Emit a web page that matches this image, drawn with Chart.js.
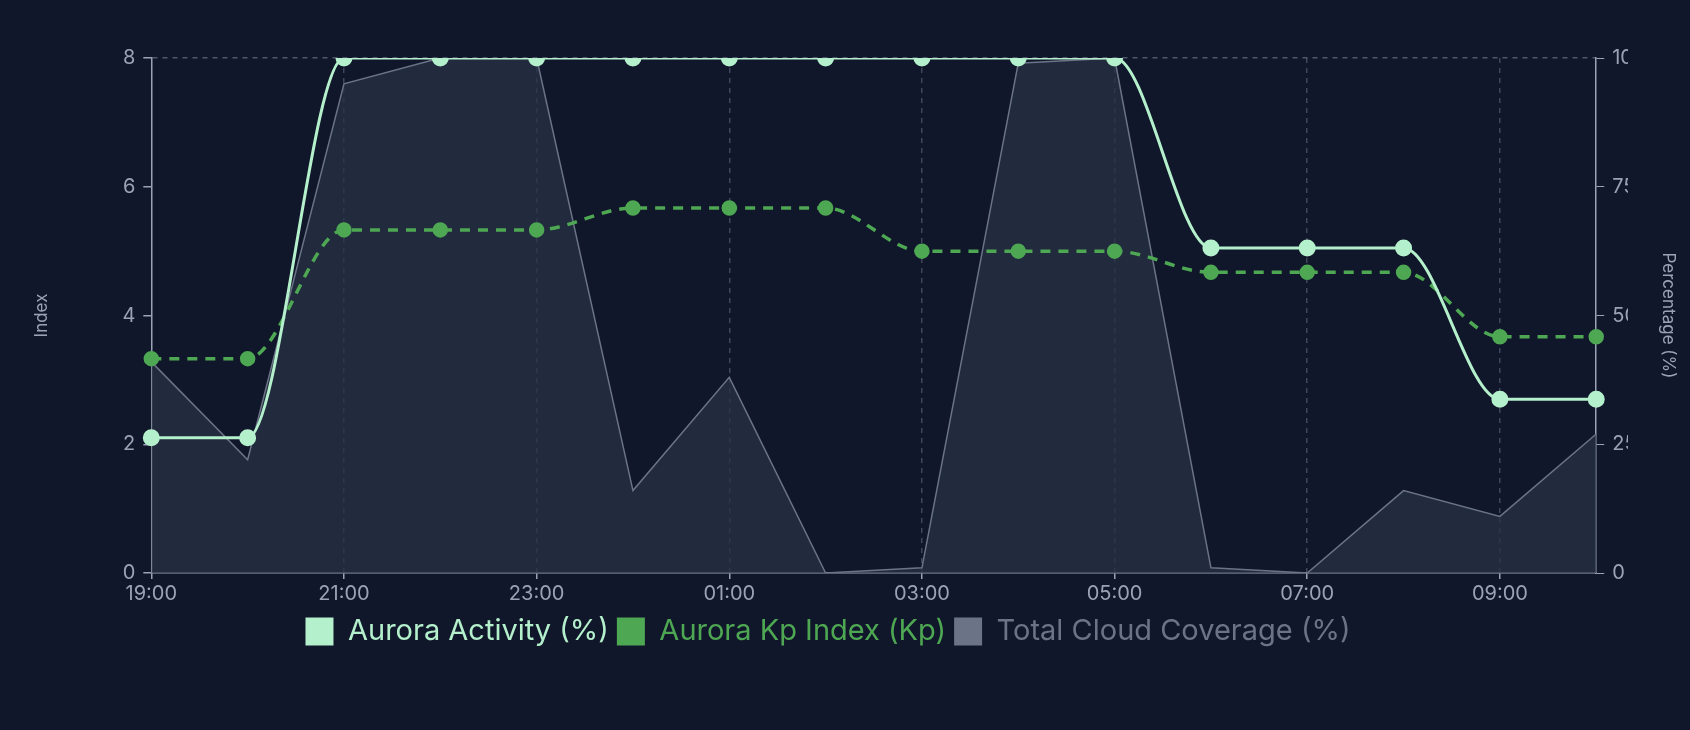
<!DOCTYPE html>
<html><head><meta charset="utf-8">
<script src="https://cdn.jsdelivr.net/npm/chart.js@4/dist/chart.umd.min.js"></script>
<style>html,body{margin:0;background:#10172a;}#w{width:1690px;height:730px;}</style>
</head><body><div id="w"><canvas id="c"></canvas></div>
<script>
const labels=["19:00","20:00","21:00","22:00","23:00","00:00","01:00","02:00","03:00","04:00","05:00","06:00","07:00","08:00","09:00","10:00"];
const auroraActivity=[2.1,2.1,8,8,8,8,8,8,8,8,8,5.05,5.05,5.05,2.7,2.7];
const kpIndex=[3.33,3.33,5.33,5.33,5.33,5.67,5.67,5.67,5.0,5.0,5.0,4.67,4.67,4.67,3.67,3.67];
const cloudCoverage=[41,22,95,100,100,16,38,0,1,99,100,1,0,16,11,27];
const tickC='#9aa3b5', font="'Inter','Noto Sans',sans-serif";
const gapPlugin={id:'gap',beforeInit(ch){const f=ch.legend.fit;ch.legend.fit=function(){f.bind(ch.legend)();this.height+=60;};}};
new Chart(document.getElementById('c'),{
 plugins:[gapPlugin],
 data:{labels,datasets:[
  {type:'line',label:'Aurora Activity (%)',data:auroraActivity,yAxisID:'y',borderColor:'#b4f0cc',backgroundColor:'#b4f0cc',borderWidth:3,pointRadius:7,cubicInterpolationMode:'monotone',order:1},
  {type:'line',label:'Aurora Kp Index (Kp)',data:kpIndex,yAxisID:'y',borderColor:'#4ea752',backgroundColor:'#4ea752',borderWidth:3.5,borderDash:[10,8],pointRadius:6,cubicInterpolationMode:'monotone',order:2},
  {type:'line',label:'Total Cloud Coverage (%)',data:cloudCoverage,yAxisID:'y1',borderColor:'#6b7486',backgroundColor:'rgba(40,50,70,0.75)',legendColor:'#6b7486',borderWidth:1.5,pointRadius:0,fill:'origin',tension:0,order:3}
 ]},
 options:{responsive:true,maintainAspectRatio:false,animation:false,
  layout:{padding:{left:28,right:62,top:58,bottom:14}},
  plugins:{legend:{position:'bottom',labels:{font:{family:font,size:29},boxWidth:28,boxHeight:28,padding:8,
    generateLabels:(ch)=>ch.data.datasets.map((d,i)=>({text:d.label,fillStyle:d.legendColor||d.borderColor,strokeStyle:d.legendColor||d.borderColor,fontColor:d.legendColor||d.borderColor,lineWidth:0,datasetIndex:i}))}},
   tooltip:{enabled:false}},
  scales:{
   x:{ticks:{color:tickC,font:{family:font,size:20},maxRotation:0,autoSkip:false,callback:(v,i)=>i%2===0?labels[i]:''},
      grid:{color:(c)=>c.index%2===0&&c.index>0?'rgba(120,130,150,0.45)':'transparent',tickColor:(c)=>c.index%2===0?'#9aa3b5':'transparent',tickLength:6,lineWidth:1.5},border:{color:'#9aa3b5',dash:[5,5],display:true,width:1.5}},
   y:{position:'left',min:0,max:8,ticks:{stepSize:2,color:tickC,font:{family:font,size:20},padding:8},
      title:{display:true,text:'Index',color:tickC,font:{family:font,size:17},padding:{bottom:62}},
      grid:{color:(c)=>c.tick&&c.tick.value===8?'rgba(120,130,150,0.6)':'transparent',tickColor:'#9aa3b5',tickLength:8,lineWidth:1.5},border:{color:'#9aa3b5',dash:[5,5],width:1.5}},
   y1:{position:'right',min:0,max:100,ticks:{stepSize:25,color:tickC,font:{family:font,size:20},padding:8},
      title:{display:true,text:'Percentage (%)',color:tickC,font:{family:font,size:17},padding:{top:-50}},
      grid:{drawOnChartArea:false,tickColor:'#9aa3b5',tickLength:8},border:{color:'#9aa3b5',width:1.5}}
  }}
});
</script></body></html>
